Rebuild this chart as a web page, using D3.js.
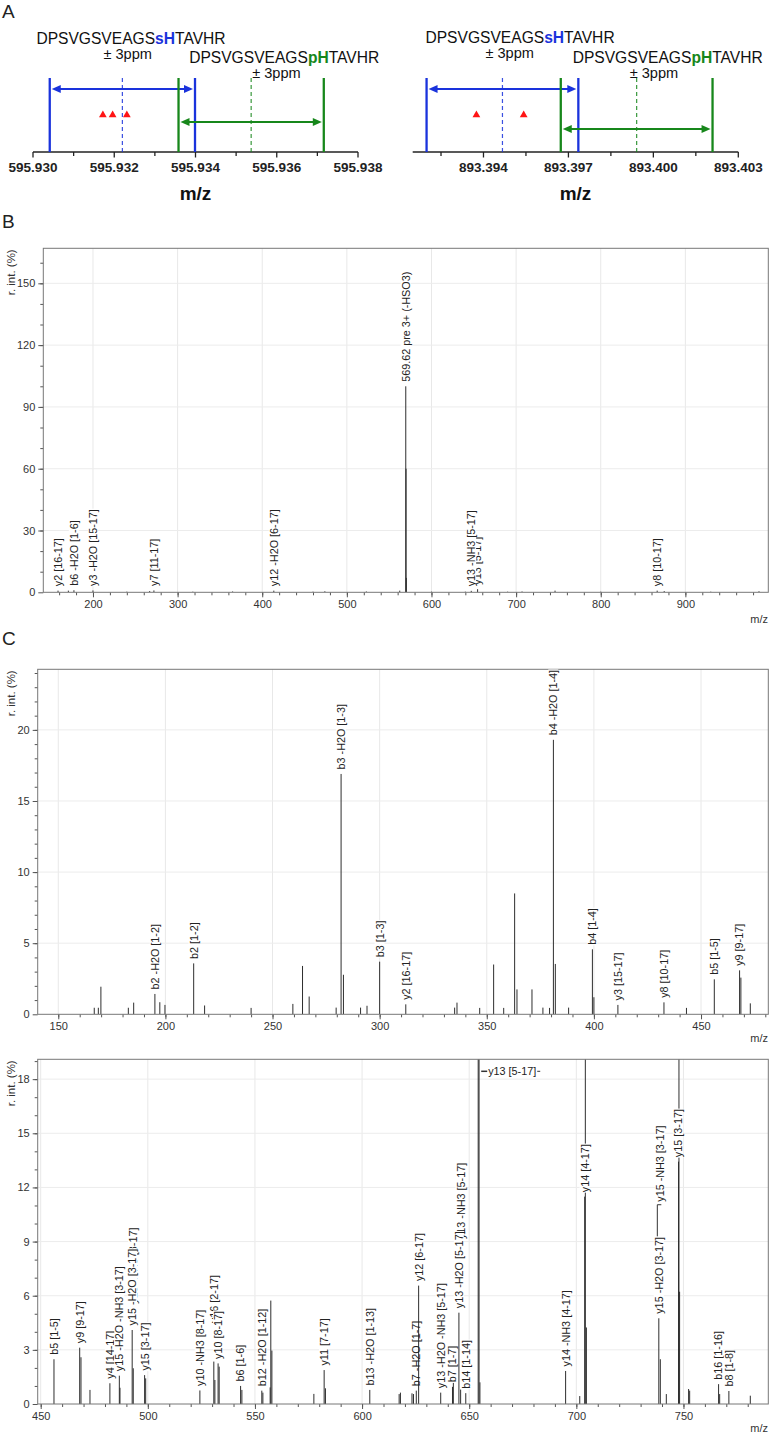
<!DOCTYPE html>
<html><head><meta charset="utf-8">
<script src="https://cdn.jsdelivr.net/npm/d3@7"></script>
<style>body{margin:0;background:#fff;} svg{display:block;font-family:"Liberation Sans",Arial,Helvetica,sans-serif;}</style>
</head><body><svg id="c" width="771" height="1435"></svg>
<script>
// ================= DATA =================
// Panel A
const aSeqPrefix = "DPSVGSVEAGS", aSeqSuffix = "TAVHR";
const aModNames = ["sH", "pH"];
const aPpm = 3;
const aLeftCenters = [595.93220, 595.93537];
const aLeftObserved = [595.93172, 595.93196, 595.93231];
const aLeftTicks = [595.930, 595.931, 595.932, 595.933, 595.934, 595.935, 595.936, 595.937, 595.938];
const aLeftTickLabels = ["595.930", "", "595.932", "", "595.934", "", "595.936", "", "595.938"];
const aRightCenters = [893.39467, 893.39941];
const aRightObserved = [893.39375, 893.39542];
const aRightTicks = [893.3925, 893.394, 893.3955, 893.397, 893.3985, 893.400, 893.4015, 893.403];
const aRightTickLabels = ["", "893.394", "", "893.397", "", "893.400", "", "893.403"];

// Panel B
const bPeakMz  = [158.7,170.9,177.5,200.0,240.0,267.0,272.0,318.0,365.0,413.7,460.0,474.0,523.0,562.5,569.62,569.95,570.29,600.0,640.0,647.0,654.5,690.0,707.0,746.0,800.0,866.7,875.0,930.0,987.0];
const bPeakInt = [0.8,0.8,1.0,0.9,0.3,0.6,0.9,0.3,0.4,0.8,0.3,0.5,0.4,0.8,100,60,7,0.3,0.3,0.7,1.5,0.3,0.4,0.8,0.3,0.8,0.6,0.3,0.5];
const bLabelMz   = [158.7, 177.5, 200.0, 272.0, 413.7, 569.62, 654.5, 647.0, 866.7];
const bLabelText = ["y2 [16-17]", "b6 -H2O [1-6]", "y3 -H2O [15-17]", "y7 [11-17]", "y12 -H2O [6-17]", "569.62 pre 3+ (-HSO3)", "y13 [5-17]", "y13 -NH3 [5-17]", "y8 [10-17]"];
const bXTicks = [200, 300, 400, 500, 600, 700, 800, 900];
const bYTicks = [0, 30, 60, 90, 120, 150];

// Panel C (top)
const c1PeakMz  = [166.8,168.7,169.9,182.7,185.2,195.1,197.4,199.8,213.2,218.3,240.0,259.5,264.0,267.1,279.7,282.0,283.1,291.1,294.1,300.0,312.2,335.0,336.1,346.7,353.2,357.9,363.0,364.1,371.1,376.2,379.3,381.1,382.0,388.2,399.3,400.0,411.2,432.7,443.2,456.2,468.0,468.6,473.0];
const c1PeakInt = [0.46,0.46,1.94,0.46,0.82,1.43,0.85,0.66,3.58,0.62,0.45,0.73,3.4,1.25,0.47,16.9,2.78,0.47,0.6,3.7,0.7,0.47,0.82,0.45,3.5,0.45,8.5,1.75,1.75,0.47,0.45,19.3,3.54,0.47,4.57,1.2,0.66,0.84,0.45,2.46,3.09,2.58,0.77];
const c1LabelMz   = [195.1, 213.2, 282.0, 300.0, 312.2, 381.1, 399.3, 411.2, 432.7, 456.2, 468.0];
const c1LabelText = ["b2 -H2O [1-2]", "b2 [1-2]", "b3 -H2O [1-3]", "b3 [1-3]", "y2 [16-17]", "b4 -H2O [1-4]", "b4 [1-4]", "y3 [15-17]", "y8 [10-17]", "b5 [1-5]", "y9 [9-17]"];
const c1XTicks = [150, 200, 250, 300, 350, 400, 450];
const c1YTicks = [0, 5, 10, 15, 20];

// Panel C (bottom)
const c2PeakMz  = [456.2,468.2,468.8,473.0,482.3,486.7,487.0,492.7,493.2,498.5,499.0,524.3,530.8,531.3,532.8,533.3,543.3,543.9,553.2,553.7,557.1,557.4,557.9,577.5,582.3,582.9,603.6,617.3,617.9,623.3,624.0,625.3,626.4,636.7,642.2,642.6,645.2,646.0,648.4,654.2,654.6,655.0,695.0,701.6,703.9,704.2,704.7,738.5,739.2,742.0,747.7,747.9,748.2,752.4,752.9,766.4,766.9,771.2,781.2];
const c2PeakInt = [2.48,3.12,2.59,0.78,1.15,1.57,0.9,4.1,1.98,1.6,1.42,0.75,2.35,1.33,2.25,2.07,1.0,0.78,0.74,0.63,0.92,5.73,2.96,0.56,1.88,0.87,0.78,0.55,0.63,0.59,0.55,0.74,6.56,0.63,0.95,1.2,5.06,0.8,0.6,45,35,1.2,1.83,0.44,11.49,25,4.24,4.75,2.48,0.55,13.43,25,6.22,0.83,0.74,1.1,0.55,0.72,0.46];
const c2LabelMz   = [493.2, 530.8, 646.0, 456.2, 468.2, 482.3, 486.7, 492.7, 498.5, 524.3, 532.8, 543.3, 553.2, 582.3, 603.6, 625.3, 626.4, 636.7, 642.2, 645.2, 648.4, 654.2, 695.0, 703.9, 739.2, 738.5, 747.7, 766.4, 771.2];
const c2LabelText = ["y15 -NH3 [3-17]", "y16 [2-17]", "y13 -NH3 [5-17]", "b5 [1-5]", "y9 [9-17]", "y4 [14-17]", "y15 -H2O -NH3 [3-17]", "y15 -H2O [3-17]", "y15 [3-17]", "y10 -NH3 [8-17]", "y10 [8-17]", "b6 [1-6]", "b12 -H2O [1-12]", "y11 [7-17]", "b13 -H2O [1-13]", "b7 -H2O [1-7]", "y12 [6-17]", "y13 -H2O -NH3 [5-17]", "b7 [1-7]", "y13 -H2O [5-17]", "b14 [1-14]", "y13 [5-17]", "y14 -NH3 [4-17]", "y14 [4-17]", "y15 -NH3 [3-17]", "y15 -H2O [3-17]", "y15 [3-17]", "b16 [1-16]", "b8 [1-8]"];
const c2XTicks = [450, 500, 550, 600, 650, 700, 750];
const c2YTicks = [0, 3, 6, 9, 12, 15, 18];

// ================= DRAW =================
const svg = d3.select("#c");
const BLUE = "#1a33dc", GREEN = "#17871b", RED = "#ff1414";

// panel letters
[["A", 18], ["B", 228], ["C", 645]].forEach(([t, yy]) =>
  svg.append("text").attr("x", 2).attr("y", yy).attr("font-size", 19).attr("fill", "#222").text(t));

function drawA(cfg) {
  const x = d3.scaleLinear().domain(cfg.domain).range(cfg.range);
  const g = svg.append("g");
  const axisY = 152, lineTop = 78;
  // axis
  g.append("line").attr("x1", cfg.range[0]).attr("x2", cfg.range[1]).attr("y1", axisY).attr("y2", axisY)
    .attr("stroke", "#222").attr("stroke-width", 1.5);
  cfg.ticks.forEach((v, i) => {
    const lab = cfg.tickLabels[i];
    g.append("line").attr("x1", x(v)).attr("x2", x(v)).attr("y1", axisY).attr("y2", axisY + (lab ? 5.5 : 4))
      .attr("stroke", "#222").attr("stroke-width", 1.3);
    if (lab) g.append("text").attr("x", x(v)).attr("y", axisY + 19.5).attr("text-anchor", "middle")
      .attr("font-size", 13.5).attr("font-weight", "bold").attr("fill", "#222").text(lab);
  });
  g.append("text").attr("x", (cfg.range[0] + cfg.range[1]) / 2).attr("y", 200).attr("text-anchor", "middle")
    .attr("font-size", 19).attr("font-weight", "bold").attr("fill", "#111").text("m/z");

  const colors = [BLUE, GREEN];
  cfg.centers.forEach((c, i) => {
    const lo = c * (1 - aPpm * 1e-6), hi = c * (1 + aPpm * 1e-6);
    const col = colors[i];
    // dashed center
    g.append("line").attr("x1", x(c)).attr("x2", x(c)).attr("y1", lineTop).attr("y2", axisY)
      .attr("stroke", col).attr("stroke-width", 1.2).attr("stroke-dasharray", "4,3").attr("opacity", 0.85);
    // bounds
    [lo, hi].forEach(v => g.append("line").attr("x1", x(v)).attr("x2", x(v)).attr("y1", lineTop).attr("y2", axisY)
      .attr("stroke", col).attr("stroke-width", 2.3));
    // arrow
    const ay = cfg.arrowY[i], xl = x(lo) + 2, xr = x(hi) - 2, L = 9, Wd = 4;
    g.append("line").attr("x1", xl + L - 1).attr("x2", xr - L + 1).attr("y1", ay).attr("y2", ay)
      .attr("stroke", col).attr("stroke-width", 2.2);
    g.append("path").attr("d", `M${xl},${ay}L${xl + L},${ay - Wd}L${xl + L},${ay + Wd}Z`).attr("fill", col);
    g.append("path").attr("d", `M${xr},${ay}L${xr - L},${ay - Wd}L${xr - L},${ay + Wd}Z`).attr("fill", col);
    // sequence text
    const tp = cfg.text[i];
    const t = g.append("text").attr("x", x(c) + tp.seqDx).attr("y", tp.seqY).attr("font-size", 15.6).attr("fill", "#111");
    t.append("tspan").text(aSeqPrefix);
    t.append("tspan").attr("font-weight", "bold").attr("fill", col).text(aModNames[i]);
    t.append("tspan").text(aSeqSuffix);
    g.append("text").attr("x", x(c) + tp.pmDx).attr("y", tp.pmY).attr("font-size", 14.6).attr("fill", "#111")
      .text("\u00b1 " + aPpm + "ppm");
  });
  // observed
  g.selectAll(null).data(cfg.observed).join("path")
    .attr("transform", d => `translate(${x(d)},${cfg.triY})`)
    .attr("d", d3.symbol(d3.symbolTriangle).size(26)).attr("fill", RED);
}

drawA({
  domain: [595.930, 595.938], range: [33, 358], ticks: aLeftTicks, tickLabels: aLeftTickLabels,
  centers: aLeftCenters, observed: aLeftObserved, arrowY: [89, 122], triY: 115,
  text: [{seqDx: -86, seqY: 43.5, pmDx: -19, pmY: 59}, {seqDx: -62, seqY: 63, pmDx: 1, pmY: 78}]
});
drawA({
  domain: [893.3915, 893.403], range: [412.7, 738.3], ticks: aRightTicks, tickLabels: aRightTickLabels,
  centers: aRightCenters, observed: aRightObserved, arrowY: [89, 129], triY: 115,
  text: [{seqDx: -77, seqY: 43, pmDx: -17, pmY: 58}, {seqDx: -64, seqY: 63, pmDx: -7, pmY: 78}]
});

let clipN = 0;
function drawSpectrum(c) {
  const x = d3.scaleLinear().domain(c.xDomain).range([c.l, c.r]);
  const y = d3.scaleLinear().domain(c.yDomain).range([c.b, c.t]);
  const g = svg.append("g");
  // grid
  g.selectAll(null).data(c.xTicks).join("line")
    .attr("x1", d => x(d)).attr("x2", d => x(d)).attr("y1", c.t).attr("y2", c.b).attr("stroke", "#e8e8e8");
  g.selectAll(null).data(c.yTicks.filter(d => d > 0)).join("line")
    .attr("x1", c.l).attr("x2", c.r).attr("y1", d => y(d)).attr("y2", d => y(d)).attr("stroke", "#ececec");
  // axes
  const styleAxis = a => {
    a.select(".domain").remove();
    a.selectAll("line").attr("stroke", "#555");
    a.selectAll("text").attr("font-size", 11).attr("fill", "#333").attr("font-family", null);
  };
  g.append("g").attr("transform", `translate(0,${c.b})`)
    .call(d3.axisBottom(x).tickValues(c.xMinor).tickSize(3).tickFormat("")).call(styleAxis);
  g.append("g").attr("transform", `translate(0,${c.b})`)
    .call(d3.axisBottom(x).tickValues(c.xTicks).tickSize(5).tickFormat(d3.format("d"))).call(styleAxis);
  g.append("g").attr("transform", `translate(${c.l},0)`)
    .call(d3.axisLeft(y).tickValues(c.yMinor).tickSize(3).tickFormat("")).call(styleAxis);
  g.append("g").attr("transform", `translate(${c.l},0)`)
    .call(d3.axisLeft(y).tickValues(c.yTicks).tickSize(5).tickFormat(d3.format("d"))).call(styleAxis);
  // peaks
  const id = "clip" + (clipN++);
  svg.append("clipPath").attr("id", id).append("rect").attr("x", c.l).attr("y", c.t).attr("width", c.r - c.l).attr("height", c.b - c.t);
  const peaks = c.mz.map((m, i) => ({mz: m, v: c.int[i]}));
  g.append("g").attr("clip-path", `url(#${id})`).selectAll("line").data(peaks).join("line")
    .attr("x1", d => x(d.mz)).attr("x2", d => x(d.mz)).attr("y1", c.b).attr("y2", d => y(d.v))
    .attr("stroke", "#2e2e2e").attr("stroke-width", 1);
  // frame
  g.append("rect").attr("x", c.l).attr("y", c.t).attr("width", c.r - c.l).attr("height", c.b - c.t)
    .attr("fill", "none").attr("stroke", "#777");
  // labels
  const lift = c.lift || {}, leader = c.leader || {}, noBg = c.noBg || {};
  c.labelMz.forEach((m, i) => {
    const pk = peaks.find(p => Math.abs(p.mz - m) < 1e-6);
    const px = x(m);
    if (pk.v > c.yDomain[1]) {
      const ty = c.t + 16;
      g.append("line").attr("x1", px + 3).attr("x2", px + 9).attr("y1", ty - 4).attr("y2", ty - 4).attr("stroke", "#333").attr("stroke-width", 1.5);
      const tt = g.append("text").attr("x", px + 10).attr("y", ty).attr("font-size", 10.8).attr("fill", "#222").text(c.labelText[i]);
      const w = tt.node().getComputedTextLength();
      g.append("line").attr("x1", px + 11 + w).attr("x2", px + 14 + w).attr("y1", ty - 4).attr("y2", ty - 4).attr("stroke", "#333");
      return;
    }
    const yb = y(pk.v) - 4.5 - (lift[m] || 0);
    if (leader[m]) {
      g.append("path").attr("d", `M${px + 1},${yb + 3}L${px - 3},${yb + 3}L${px - 3},${yb + 3 + leader[m]}`)
        .attr("fill", "none").attr("stroke", "#333");
    }
    const lg = g.append("g").attr("transform", `translate(${px},${yb}) rotate(-90)`);
    const rect = lg.append("rect").attr("fill", "#fff");
    const t = lg.append("text").attr("dy", "0.36em").attr("font-size", 10.8).attr("fill", "#222").text(c.labelText[i]);
    const bb = t.node().getBBox();
    if (!noBg[m]) rect.attr("x", bb.x - 0.5).attr("y", bb.y + 1).attr("width", bb.width + 1).attr("height", bb.height - 2);
    else rect.remove();
  });
  // titles
  g.append("text").attr("transform", `translate(15,${c.t + 1}) rotate(-90)`).attr("text-anchor", "end")
    .attr("font-size", 11.5).attr("fill", "#333").text("r. int. (%)");
  g.append("text").attr("x", 768).attr("y", c.b + c.mzDy).attr("text-anchor", "end")
    .attr("font-size", 11).attr("fill", "#333").text("m/z");
}

drawSpectrum({
  l: 43.3, r: 768.3, t: 248.3, b: 592.3, xDomain: [141.3, 998], yDomain: [0, 167], mzDy: 31,
  xTicks: bXTicks, xMinor: d3.range(160, 998, 20), yTicks: bYTicks, yMinor: d3.range(10, 167, 10),
  mz: bPeakMz, int: bPeakInt, labelMz: bLabelMz, labelText: bLabelText
});
drawSpectrum({
  l: 37.7, r: 768.3, t: 669.3, b: 1014.3, xDomain: [140.4, 481.4], yDomain: [0, 24.26], mzDy: 28,
  xTicks: c1XTicks, xMinor: d3.range(150, 481, 10), yTicks: c1YTicks, yMinor: d3.range(1, 24.2, 1),
  mz: c1PeakMz, int: c1PeakInt, labelMz: c1LabelMz, labelText: c1LabelText
});
drawSpectrum({
  l: 37.7, r: 768.3, t: 1059.3, b: 1404, xDomain: [448.6, 789.6], yDomain: [0, 19.1], mzDy: 27.5,
  xTicks: c2XTicks, xMinor: d3.range(450, 789, 10), yTicks: c2YTicks, yMinor: d3.range(1, 19.05, 1),
  mz: c2PeakMz, int: c2PeakInt, labelMz: c2LabelMz, labelText: c2LabelText,
  lift: {493.2: 60, 530.8: 34, 646.0: 146, 739.2: 153}, leader: {739.2: 32}, noBg: {625.3: true}
});
</script></body></html>
